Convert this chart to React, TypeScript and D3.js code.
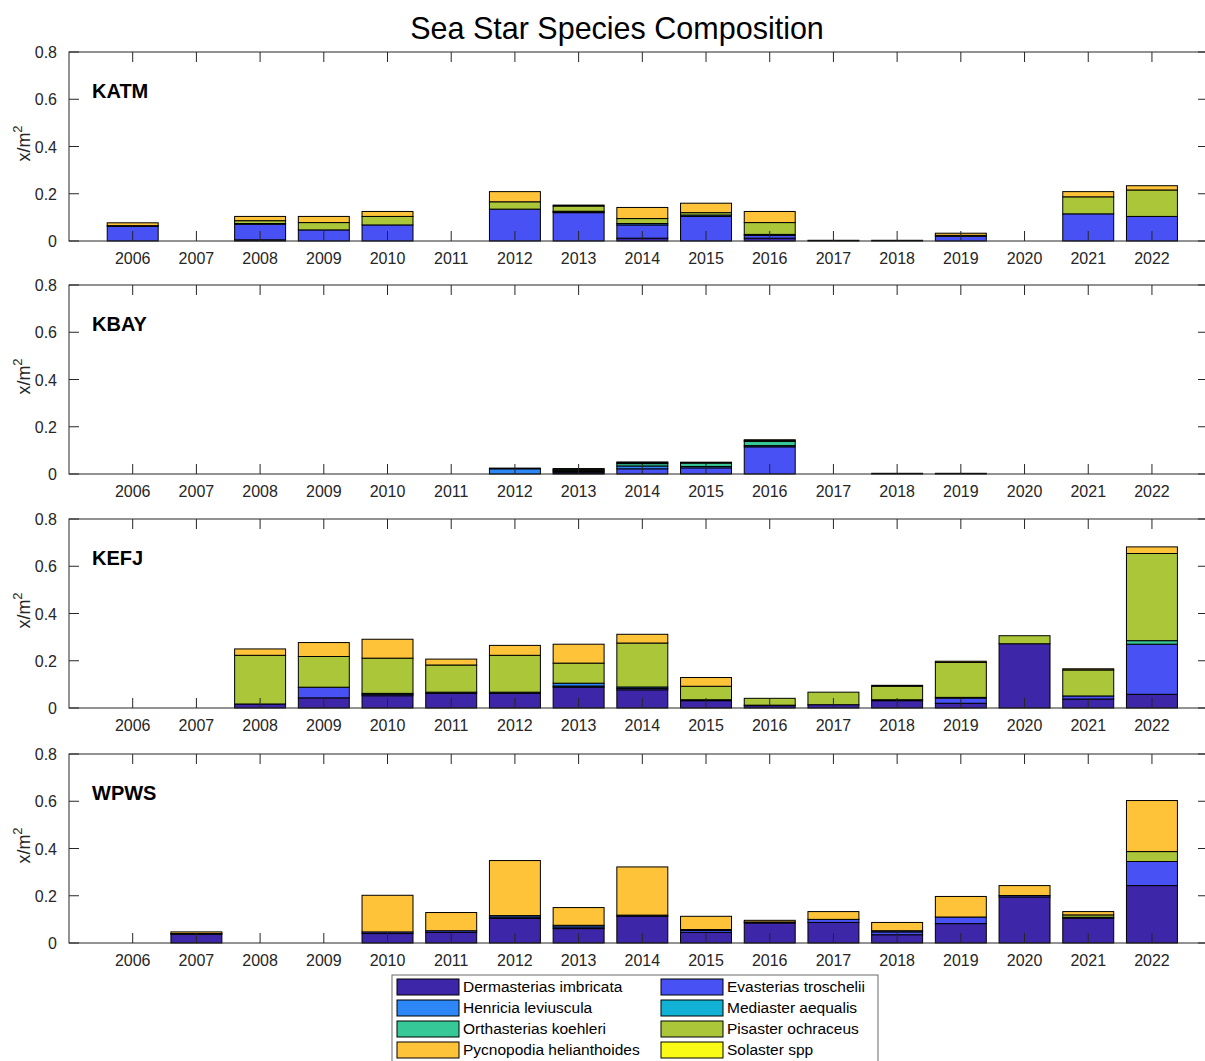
import React from 'react';
import * as d3 from 'd3';

// years on the x axis
const years = d3.range(2006, 2023);

const species = [
  'Dermasterias imbricata',
  'Evasterias troschelii',
  'Henricia leviuscula',
  'Mediaster aequalis',
  'Orthasterias koehleri',
  'Pisaster ochraceus',
  'Pycnopodia helianthoides',
  'Solaster spp',
];

// parula(8)
const colors = ['#3E26A8', '#4852F4', '#2D87F7', '#12B1D6', '#37C897', '#ABC739', '#FEC338', '#F9FB15'];

const sites = ['KATM', 'KBAY', 'KEFJ', 'WPWS'];

const yTicks = [0, 0.2, 0.4, 0.6, 0.8];

const z = () => years.map(() => 0);

// one row per species (order as above), one column per year 2006..2022
const katm: number[][] = [
  [0, 0, 0.005, 0, 0, 0, 0, 0, 0.012, 0, 0.012, 0, 0, 0, 0, 0, 0],
  [0.062, 0, 0.066, 0.047, 0.068, 0, 0.135, 0.12, 0.056, 0.104, 0.012, 0.003, 0.003, 0.02, 0, 0.115, 0.104],
  [0.003, 0, 0.003, 0, 0, 0, 0, 0.003, 0.006, 0.006, 0.004, 0, 0, 0, 0, 0, 0],
  z(),
  [0, 0, 0, 0, 0, 0, 0, 0.003, 0, 0, 0, 0, 0, 0, 0, 0, 0],
  [0, 0, 0.012, 0.031, 0.036, 0, 0.031, 0.022, 0.021, 0.01, 0.05, 0, 0, 0.004, 0, 0.072, 0.112],
  [0.012, 0, 0.018, 0.026, 0.021, 0, 0.043, 0.004, 0.047, 0.04, 0.047, 0, 0, 0.009, 0, 0.022, 0.018],
  z(),
];

const kbay: number[][] = [
  [0, 0, 0, 0, 0, 0, 0, 0.004, 0, 0, 0, 0, 0, 0, 0, 0, 0],
  [0, 0, 0, 0, 0, 0, 0, 0.005, 0.022, 0.026, 0.115, 0, 0.003, 0.003, 0, 0, 0],
  [0, 0, 0, 0, 0, 0, 0.022, 0.004, 0.012, 0.006, 0.005, 0, 0, 0, 0, 0, 0],
  [0, 0, 0, 0, 0, 0, 0, 0.003, 0, 0, 0, 0, 0, 0, 0, 0, 0],
  [0, 0, 0, 0, 0, 0, 0.003, 0.004, 0.01, 0.014, 0.018, 0, 0, 0, 0, 0, 0],
  [0, 0, 0, 0, 0, 0, 0, 0.003, 0.004, 0.004, 0.004, 0, 0, 0, 0, 0, 0],
  [0, 0, 0, 0, 0, 0, 0, 0, 0.003, 0, 0.003, 0, 0, 0, 0, 0, 0],
  z(),
];

const kefj: number[][] = [
  [0, 0, 0.017, 0.043, 0.052, 0.062, 0.062, 0.088, 0.077, 0.031, 0.01, 0.014, 0.031, 0.02, 0.272, 0.038, 0.058],
  [0, 0, 0, 0.045, 0.006, 0.005, 0.005, 0.005, 0.006, 0.004, 0.002, 0, 0.004, 0.022, 0, 0.013, 0.212],
  [0, 0, 0, 0, 0.004, 0, 0, 0.012, 0.006, 0, 0, 0, 0, 0.003, 0, 0, 0],
  z(),
  [0, 0, 0, 0, 0, 0, 0, 0, 0, 0, 0, 0, 0, 0, 0, 0, 0.015],
  [0, 0, 0.206, 0.13, 0.149, 0.115, 0.156, 0.085, 0.186, 0.057, 0.029, 0.053, 0.057, 0.148, 0.034, 0.11, 0.369],
  [0, 0, 0.027, 0.059, 0.08, 0.025, 0.042, 0.08, 0.037, 0.037, 0, 0, 0.004, 0.005, 0, 0.005, 0.028],
  z(),
];

const wpws: number[][] = [
  [0, 0.037, 0, 0, 0.04, 0.045, 0.104, 0.061, 0.113, 0.045, 0.085, 0.087, 0.035, 0.082, 0.195, 0.105, 0.243],
  [0, 0.003, 0, 0, 0.007, 0.007, 0.006, 0.007, 0.005, 0.008, 0.004, 0.013, 0.012, 0.028, 0.006, 0.004, 0.102],
  [0, 0, 0, 0, 0, 0, 0.006, 0.007, 0, 0.004, 0, 0, 0.005, 0, 0, 0, 0],
  z(),
  z(),
  [0, 0, 0, 0, 0, 0, 0, 0, 0, 0, 0, 0, 0, 0, 0, 0.01, 0.042],
  [0, 0.007, 0, 0, 0.155, 0.077, 0.233, 0.075, 0.204, 0.056, 0.007, 0.033, 0.035, 0.087, 0.042, 0.014, 0.216],
  z(),
];

const siteData = [katm, kbay, kefj, wpws];

const W = 1205;
const H = 1061;
const left = 69;
const right = 1208;
const panelTops = [52, 285, 519, 754];
const panelH = 189;
const tickLen = 10;
const axisColor = '#262626';
const font = 'Liberation Sans, Arial, Helvetica, sans-serif';

const x = d3.scaleLinear().domain([2005, 2022.88]).range([left, right]);
const barW = (x(2006) - x(2005)) * 0.8;

const Panel = ({ top, site, rows }: { top: number; site: string; rows: number[][] }) => {
  const y = d3.scaleLinear().domain([0, 0.8]).range([top + panelH, top]);
  const bottom = top + panelH;

  // stack the species for each year
  const table = years.map((yr, i) => {
    const o: any = { year: yr };
    species.forEach((s, k) => (o[s] = rows[k][i]));
    return o;
  });
  const stacked = d3.stack().keys(species)(table);

  return (
    <g>
      {stacked.map((layer, k) => (
        <g key={k} fill={colors[k]}>
          {layer.map((d, i) =>
            d[1] - d[0] > 0 ? (
              <rect
                key={i}
                x={x(years[i]) - barW / 2}
                y={y(d[1])}
                width={barW}
                height={y(d[0]) - y(d[1])}
                stroke="#000"
                strokeWidth={1}
              />
            ) : null
          )}
        </g>
      ))}

      {/* box */}
      <rect x={left} y={top} width={right - left} height={panelH} fill="none" stroke={axisColor} strokeWidth={1} />

      {/* x ticks */}
      {years.map((yr) => (
        <g key={yr}>
          <line x1={x(yr)} x2={x(yr)} y1={bottom} y2={bottom - tickLen} stroke={axisColor} />
          <line x1={x(yr)} x2={x(yr)} y1={top} y2={top + tickLen} stroke={axisColor} />
          <text x={x(yr)} y={bottom + 23} textAnchor="middle" fontSize={16} fill={axisColor} fontFamily={font}>
            {yr}
          </text>
        </g>
      ))}

      {/* y ticks */}
      {yTicks.map((t) => (
        <g key={t}>
          <line x1={left} x2={left + tickLen} y1={y(t)} y2={y(t)} stroke={axisColor} />
          <line x1={right} x2={right - tickLen} y1={y(t)} y2={y(t)} stroke={axisColor} />
          <text x={57} y={y(t) + 6} textAnchor="end" fontSize={16} fill={axisColor} fontFamily={font}>
            {t === 0 ? '0' : t.toFixed(1)}
          </text>
        </g>
      ))}

      <text
        transform={`translate(30,${top + panelH / 2 - 3}) rotate(-90)`}
        textAnchor="middle"
        fontSize={18}
        fill={axisColor}
        fontFamily={font}
      >
        x/m<tspan dy={-8} fontSize={13}>2</tspan>
      </text>

      <text x={92} y={top + 46} fontSize={20} fontWeight="bold" fill="#000" fontFamily={font}>
        {site}
      </text>
    </g>
  );
};

const Legend = () => {
  const boxX = 392;
  const boxY = 975;
  const colX = [397, 661];
  const rowH = 21;
  return (
    <g>
      <rect x={boxX} y={boxY} width={486} height={100} fill="#fff" stroke="#6b6b6b" strokeWidth={1} />
      {species.map((s, k) => {
        const col = k % 2;
        const row = Math.floor(k / 2);
        const sy = boxY + 4 + row * rowH;
        return (
          <g key={s}>
            <rect x={colX[col]} y={sy} width={62} height={16} fill={colors[k]} stroke="#000" strokeWidth={1} />
            <text x={colX[col] + 66} y={sy + 13} fontSize={15.5} fill="#000" fontFamily={font}>
              {s}
            </text>
          </g>
        );
      })}
    </g>
  );
};

export default function App() {
  return (
    <div style={{ position: 'absolute', left: 0, top: 0 }}>
      <svg width={W} height={H} style={{ display: 'block', background: '#fff' }}>
        <rect width={W} height={H} fill="#fff" />
        <text x={617} y={39} textAnchor="middle" fontSize={30.5} fill="#000" fontFamily={font}>
          Sea Star Species Composition
        </text>
        {sites.map((s, i) => (
          <Panel key={s} top={panelTops[i]} site={s} rows={siteData[i]} />
        ))}
        <Legend />
      </svg>
    </div>
  );
}
